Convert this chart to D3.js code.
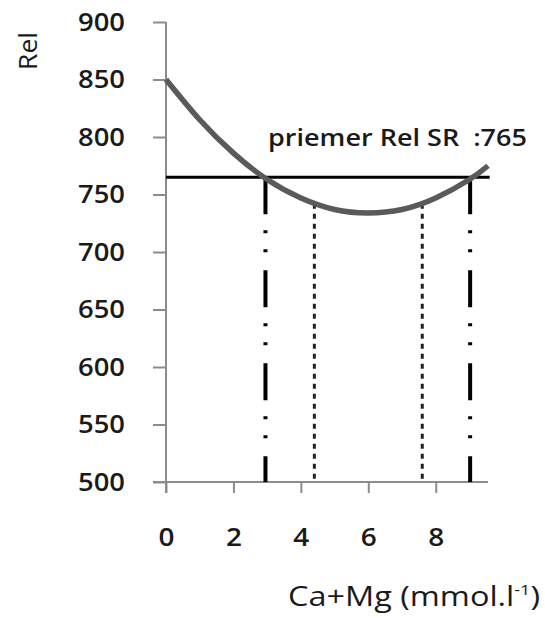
<!DOCTYPE html>
<html>
<head>
<meta charset="utf-8">
<script src="https://cdn.jsdelivr.net/npm/d3@7"></script>
<style>
  body { margin: 0; background: #fff; }
  svg text { font-family: "Open Sans", sans-serif; fill: #1a1a1a; }
</style>
</head>
<body>
<div id="chart"></div>
<script>
// curve
const caMg = [0, 1, 2, 3, 4, 5, 6, 7, 8, 9, 9.55]
const rel = [850, 815, 786, 763, 747, 737, 734, 737, 747, 763, 775]
const meanRel = 765
const meanLabel = "priemer Rel SR  :765"
// where the curve crosses the mean line, and the inner dotted marks
const crossX = [2.95, 9.02]
const innerX = [4.4, 7.6]
const innerY = [742, 742]
const xTicks = [0, 2, 4, 6, 8]
const yTicks = [500, 550, 600, 650, 700, 750, 800, 850, 900]

const width = 545
const height = 618

const svg = d3.select("#chart")
  .append("svg")
  .attr("width", width)
  .attr("height", height)

const x = d3.scaleLinear().domain([0, 9.55]).range([166, 488])
const y = d3.scaleLinear().domain([500, 900]).range([482, 22])

const axisColor = "#8c8c8c"

// y axis
const yAxis = svg.append("g")
  .attr("transform", `translate(${x(0)},0)`)
  .call(d3.axisLeft(y).tickValues(yTicks).tickSize(13).tickSizeOuter(0).tickPadding(28))
yAxis.select(".domain").remove()
yAxis.selectAll("line").attr("stroke", axisColor).attr("stroke-width", 2)
yAxis.selectAll("text")
  .style("font-size", "25px")
  .style("font-weight", 600)
  .attr("fill", "#1a1a1a")
  .attr("textLength", 47)
  .attr("lengthAdjust", "spacingAndGlyphs")

// x axis
const xAxis = svg.append("g")
  .attr("transform", `translate(0,${y(500)})`)
  .call(d3.axisBottom(x).tickValues(xTicks).tickSize(11).tickSizeOuter(0).tickPadding(35))
xAxis.select(".domain").remove()
xAxis.selectAll("line").attr("stroke", axisColor).attr("stroke-width", 2)
xAxis.selectAll("text")
  .style("font-size", "26px")
  .style("font-weight", 600)
  .attr("fill", "#1a1a1a")
  .attr("textLength", 16)
  .attr("lengthAdjust", "spacingAndGlyphs")

svg.append("line")
  .attr("x1", x(0)).attr("x2", x(0))
  .attr("y1", y(900)).attr("y2", y(500) + 11)
  .attr("stroke", axisColor).attr("stroke-width", 2)

svg.append("line")
  .attr("x1", x(0) - 13).attr("x2", x(9.55))
  .attr("y1", y(500)).attr("y2", y(500))
  .attr("stroke", axisColor).attr("stroke-width", 2)

// dotted inner marks
svg.selectAll(".inner")
  .data(innerX)
  .enter()
  .append("line")
  .attr("class", "inner")
  .attr("x1", d => x(d)).attr("x2", d => x(d))
  .attr("y1", (d, i) => y(innerY[i])).attr("y2", y(500))
  .attr("stroke", "#222")
  .attr("stroke-width", 3)
  .attr("stroke-dasharray", "5,5")

// dash-dot verticals at the crossings
svg.selectAll(".cross")
  .data(crossX)
  .enter()
  .append("line")
  .attr("class", "cross")
  .attr("x1", d => x(d)).attr("x2", d => x(d))
  .attr("y1", y(meanRel)).attr("y2", y(500))
  .attr("stroke", "#000")
  .attr("stroke-width", 4)
  .attr("stroke-dasharray", "37,16,3,16,3,18")

// mean line
svg.append("line")
  .attr("x1", x(0)).attr("x2", x(9.6))
  .attr("y1", y(meanRel)).attr("y2", y(meanRel))
  .attr("stroke", "#000")
  .attr("stroke-width", 3)

// curve
const line = d3.line()
  .x((d, i) => x(caMg[i]))
  .y(d => y(d))
  .curve(d3.curveNatural)

svg.append("path")
  .datum(rel)
  .attr("d", line)
  .attr("fill", "none")
  .attr("stroke", "#5a5a5a")
  .attr("stroke-width", 5.5)

svg.append("text")
  .attr("x", 268)
  .attr("y", 146)
  .style("font-size", "24px")
  .style("font-weight", 600)
  .style("white-space", "pre")
  .attr("textLength", 259)
  .attr("lengthAdjust", "spacingAndGlyphs")
  .text(meanLabel)

// axis titles
svg.append("text")
  .attr("transform", "translate(37,51) rotate(-90)")
  .attr("text-anchor", "middle")
  .style("font-size", "25px")
  .attr("textLength", 38)
  .attr("lengthAdjust", "spacingAndGlyphs")
  .text("Rel")

const xTitle = svg.append("text")
  .attr("x", 288)
  .attr("y", 606)
  .style("font-size", "27px")
  .attr("textLength", 252)
  .attr("lengthAdjust", "spacingAndGlyphs")
xTitle.append("tspan").text("Ca+Mg (mmol.l")
xTitle.append("tspan").attr("dy", -11).style("font-size", "15px").text("-1")
xTitle.append("tspan").attr("dy", 11).text(")")
</script>
</body>
</html>
